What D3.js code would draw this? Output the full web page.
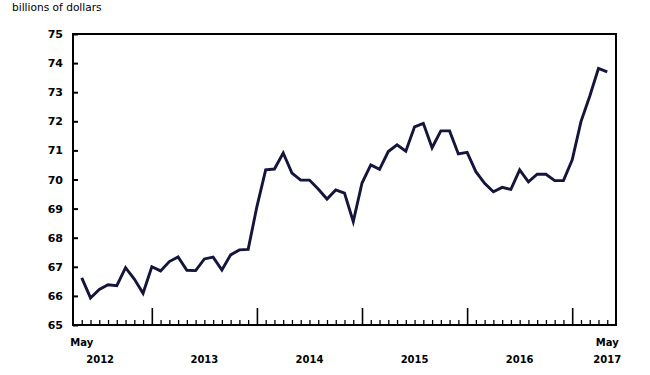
<!DOCTYPE html>
<html>
<head>
<meta charset="utf-8">
<script src="https://cdn.jsdelivr.net/npm/d3@7"></script>
<style>
  html, body { margin: 0; padding: 0; background: #fff; }
  svg { display: block; }
  text { font-family: "DejaVu Sans", Verdana, sans-serif; fill: #000; }
</style>
</head>
<body>
<svg id="chart" width="650" height="375"></svg>
<script>
// Monthly values, May 2012 .. May 2017 (billions of dollars)
const startMonth = "2012-05";
const values = [
  66.62, 65.93, 66.22, 66.38, 66.35, 66.97, 66.58, 66.09,
  67.00, 66.86, 67.18, 67.34, 66.88, 66.87, 67.27, 67.33, 66.89, 67.41, 67.58, 67.60,
  69.07, 70.33, 70.36, 70.91, 70.22, 69.98, 69.98, 69.67, 69.33, 69.64, 69.53, 68.55,
  69.88, 70.50, 70.35, 70.96, 71.19, 70.97, 71.81, 71.93, 71.09, 71.67, 71.67, 70.88,
  70.93, 70.27, 69.87, 69.58, 69.73, 69.66, 70.33, 69.92, 70.18, 70.18, 69.96, 69.96,
  70.68, 71.99, 72.86, 73.82, 73.70
];
const yTicks = [65, 66, 67, 68, 69, 70, 71, 72, 73, 74, 75];
const yearLabels = ["2012", "2013", "2014", "2015", "2016", "2017"];
const yearLabelPos = [2.1, 14, 26, 38, 50, 60];   // month index where each year label sits
const monthLabels = ["May", "May"];
const monthLabelPos = [0, 60];
const yTitle = "billions of dollars";

const svg = d3.select("#chart");
const parse = d3.timeParse("%Y-%m");
const t0 = parse(startMonth);
const data = values.map((v, i) => ({ i, date: d3.timeMonth.offset(t0, i), v }));

const x = d3.scaleLinear().domain([-1, 61]).range([73, 616]);
const y = d3.scaleLinear().domain([65, 75]).range([325, 34]);

// Title
svg.append("text").attr("x", 12).attr("y", 11)
  .attr("font-size", "10.6px").text(yTitle);

// Y tick labels and inner ticks
const yAxis = d3.axisLeft(y).tickValues(yTicks).tickSize(-5).tickPadding(10).tickFormat(d3.format("d"));
const gy = svg.append("g").attr("transform", `translate(${x.range()[0]},0)`).call(yAxis);
gy.select(".domain").remove();
gy.selectAll(".tick line").attr("stroke", "#000").attr("stroke-width", 2);
gy.selectAll(".tick text").attr("font-size", "11px").attr("font-weight", "bold")
  .attr("font-family", "DejaVu Sans, Verdana, sans-serif").attr("fill", "#000");

// X ticks: small at each month, tall at each January
const xAxis = d3.axisBottom(x).tickValues(data.map(d => d.i))
  .tickSize(-5).tickFormat("");
const gx = svg.append("g").attr("transform", `translate(0,${y.range()[0]})`).call(xAxis);
gx.select(".domain").remove();
gx.selectAll(".tick line")
  .attr("stroke", "#000")
  .attr("y2", d => data[d].date.getMonth() === 0 ? -17 : -5)
  .attr("stroke-width", d => data[d].date.getMonth() === 0 ? 1.6 : 1.3);

// Frame
const [L, R] = x.range();
const [B, T] = y.range();
svg.append("rect").attr("x", L).attr("y", T).attr("width", R - L).attr("height", B - T)
  .attr("fill", "none").attr("stroke", "#000").attr("stroke-width", 2);

// X labels
svg.selectAll("text.month").data(monthLabels).join("text").attr("class", "month")
  .attr("x", (d, k) => x(monthLabelPos[k])).attr("y", 346)
  .attr("text-anchor", "middle").attr("font-size", "10px").attr("font-weight", "bold").text(d => d);
svg.selectAll("text.year").data(yearLabels).join("text").attr("class", "year")
  .attr("x", (d, k) => x(yearLabelPos[k])).attr("y", 363)
  .attr("text-anchor", "middle").attr("font-size", "10px").attr("font-weight", "bold").text(d => d);

// Line
const line = d3.line().x(d => x(d.i)).y(d => y(d.v));
svg.append("path").datum(data).attr("d", line)
  .attr("fill", "none").attr("stroke", "#14143c").attr("stroke-width", 2.9)
  .attr("stroke-linejoin", "miter");
</script>
</body>
</html>
